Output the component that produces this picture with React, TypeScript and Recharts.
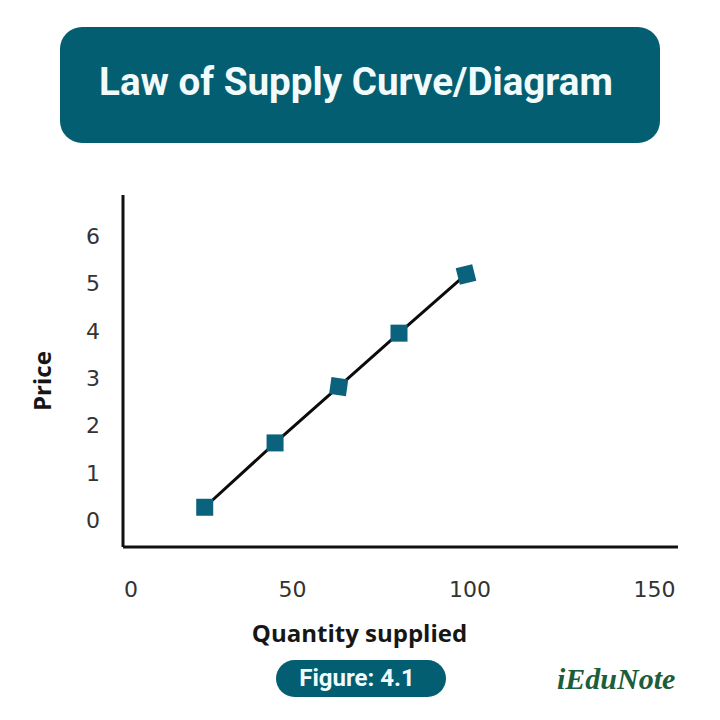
import { CartesianGrid, Line, LineChart, XAxis, YAxis } from "recharts";

const quantity = [22, 43, 62, 80, 100];
const price = [0.27, 1.63, 2.82, 3.95, 5.19];
const xTicks = [0, 50, 100, 150];
const yTicks = [0, 1, 2, 3, 4, 5, 6];
const data = quantity.map((q, i) => ({ quantity: q, price: price[i] }));

// the labels in the picture don't sit exactly on an even scale
const xLabelShift: Record<number, number> = { 0: 0, 50: -6, 100: 4, 150: 21 };
const markerTilt = [0, 0, 8, 0, -14];

const TEAL = "#045e72";
const TICK_FONT = "'DejaVu Sans', sans-serif";
const BOLD_FONT = "'Open Sans', sans-serif";

function XTick({ x, y, payload }: any) {
  return (
    <text
      x={x + (xLabelShift[payload.value] ?? 0)}
      y={y + 42}
      textAnchor="middle"
      fontFamily={TICK_FONT}
      fontSize={22}
      fill="#333"
    >
      {payload.value}
    </text>
  );
}

function SquareDot({ cx, cy, index }: any) {
  return (
    <rect
      key={index}
      x={cx - 8.5}
      y={cy - 8.5}
      width={17}
      height={17}
      fill="#0a627c"
      transform={`rotate(${markerTilt[index] ?? 0} ${cx} ${cy})`}
    />
  );
}

export default function App() {
  return (
    <div style={{ position: "absolute", left: 0, top: 0, width: 720, height: 720, background: "#fff" }}>
      <div
        style={{
          position: "absolute",
          left: 60,
          top: 27,
          width: 592,
          paddingRight: 8,
          height: 116,
          borderRadius: 22,
          background: TEAL,
          color: "#f2fbfb",
          fontFamily: "Roboto, sans-serif",
          fontWeight: 700,
          fontSize: 38.6,
          lineHeight: "110px",
          textAlign: "center",
        }}
      >
        Law of Supply Curve/Diagram
      </div>

      <LineChart
        width={720}
        height={720}
        data={data}
        margin={{ top: 195, right: 42, bottom: 0, left: 0 }}
      >
        <CartesianGrid stroke="none" />
        <XAxis
          type="number"
          dataKey="quantity"
          domain={[-2.4, 163.3]}
          ticks={xTicks}
          tick={<XTick />}
          tickLine={false}
          axisLine={{ stroke: "#111", strokeWidth: 3 }}
          height={173}
          label={{
            value: "Quantity supplied",
            position: "insideBottom",
            offset: 78,
            dx: -41,
            fontFamily: BOLD_FONT,
            fontWeight: 700,
            fontSize: 24,
            fill: "#161616",
          }}
        />
        <YAxis
          type="number"
          domain={[-0.57, 6.87]}
          ticks={yTicks}
          interval={0}
          width={123}
          tickLine={false}
          tickMargin={17}
          tick={{ fontFamily: TICK_FONT, fontSize: 22, fill: "#333" }}
          axisLine={{ stroke: "#111", strokeWidth: 3 }}
          label={{
            value: "Price",
            angle: -90,
            position: "insideLeft",
            offset: 42,
            dy: 40,
            fontFamily: BOLD_FONT,
            fontWeight: 700,
            fontSize: 24,
            fill: "#161616",
          }}
        />
        <Line
          dataKey="price"
          stroke="#0c0c0c"
          strokeWidth={3}
          dot={<SquareDot />}
          activeDot={false}
          isAnimationActive={false}
        />
      </LineChart>

      <div
        style={{
          position: "absolute",
          left: 276,
          top: 660,
          width: 162,
          paddingRight: 8,
          height: 37,
          borderRadius: 19,
          background: TEAL,
          color: "#f2fbfb",
          fontFamily: "Roboto, sans-serif",
          fontWeight: 700,
          fontSize: 24,
          lineHeight: "37px",
          textAlign: "center",
        }}
      >
        Figure: 4.1
      </div>
      <div
        style={{
          position: "absolute",
          left: 557,
          top: 664,
          color: "#1b5e3b",
          fontFamily: "'Liberation Serif', serif",
          fontStyle: "italic",
          fontWeight: 700,
          fontSize: 30,
          lineHeight: "30px",
        }}
      >
        iEduNote
      </div>
    </div>
  );
}
